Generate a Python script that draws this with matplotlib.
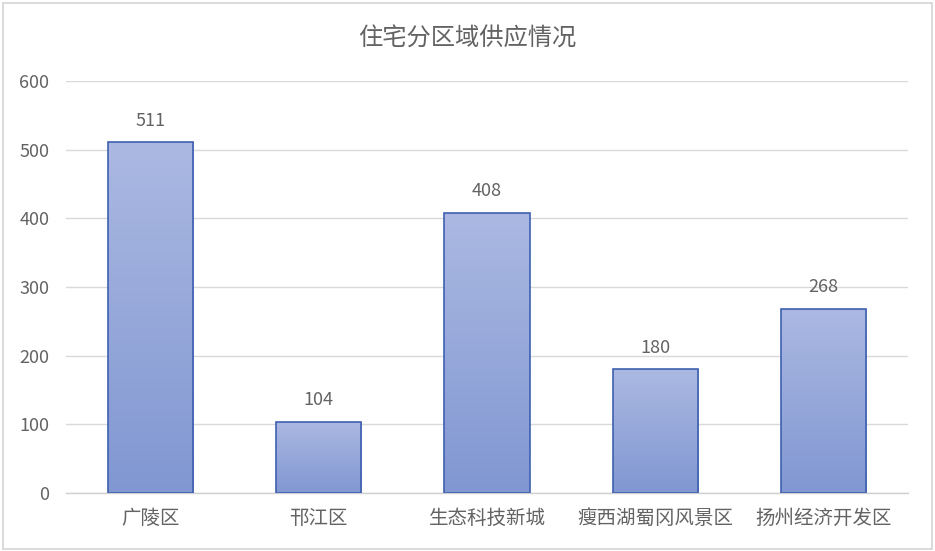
import numpy as np
import matplotlib
matplotlib.use("Agg")
import matplotlib.pyplot as plt
from matplotlib.colors import LinearSegmentedColormap
from matplotlib.patches import Rectangle

plt.rcParams['font.family'] = ['Noto Sans CJK SC', 'DejaVu Sans']

title = "住宅分区域供应情况"
categories = ["广陵区", "邗江区", "生态科技新城", "瘦西湖蜀冈风景区", "扬州经济开发区"]
values = [511, 104, 408, 180, 268]
yticks = [0, 100, 200, 300, 400, 500, 600]

TXT = '#636363'

fig = plt.figure(figsize=(9.35, 5.51), dpi=100)
ax = fig.add_axes([0.0706, 0.1053, 0.9005, 0.7477])

x = np.arange(len(categories))
bars = ax.bar(x, values, width=0.505, facecolor='none', edgecolor='#3f60b0', linewidth=1.2, zorder=3)

cmap = LinearSegmentedColormap.from_list('g', ['#8197d2', '#abb9e2'])
grad = np.linspace(0, 1, 256).reshape(-1, 1)
for b in bars:
    x0, w, h = b.get_x(), b.get_width(), b.get_height()
    im = ax.imshow(grad, cmap=cmap, aspect='auto', origin='lower',
                   extent=[x0, x0 + w, 0, h], zorder=2)
    im.set_clip_path(b)
    ax.annotate(str(int(h)), (x0 + w / 2, h), xytext=(0, 9), textcoords='offset points',
                ha='center', va='bottom', fontsize=13, color=TXT)

ax.set_xlim(-0.5, len(categories) - 0.5)
ax.set_ylim(0, 600)
ax.set_yticks(yticks)
ax.set_yticklabels([str(v) for v in yticks], fontsize=13, color=TXT)
ax.set_xticks(x)
ax.set_xticklabels(categories, fontsize=14, color=TXT)
ax.tick_params(axis='x', length=0, pad=11)
ax.tick_params(axis='y', length=0, pad=12)
ax.grid(axis='y', color='#d9d9d9', linewidth=1.0, zorder=0)
ax.set_axisbelow(True)
for s in ['top', 'right', 'left']:
    ax.spines[s].set_visible(False)
ax.spines['bottom'].set_color('#d0d0d0')
ax.spines['bottom'].set_linewidth(1.0)

fig.text(0.5, 1 - 39 / 551, title, ha='center', va='center', fontsize=17.5, color=TXT)

fig.patches.append(Rectangle((0.003, 0.004), 0.994, 0.99, transform=fig.transFigure,
                             fill=False, edgecolor='#d4d4d4', linewidth=1.2))

fig.savefig('out.png', dpi=100, facecolor='white')
